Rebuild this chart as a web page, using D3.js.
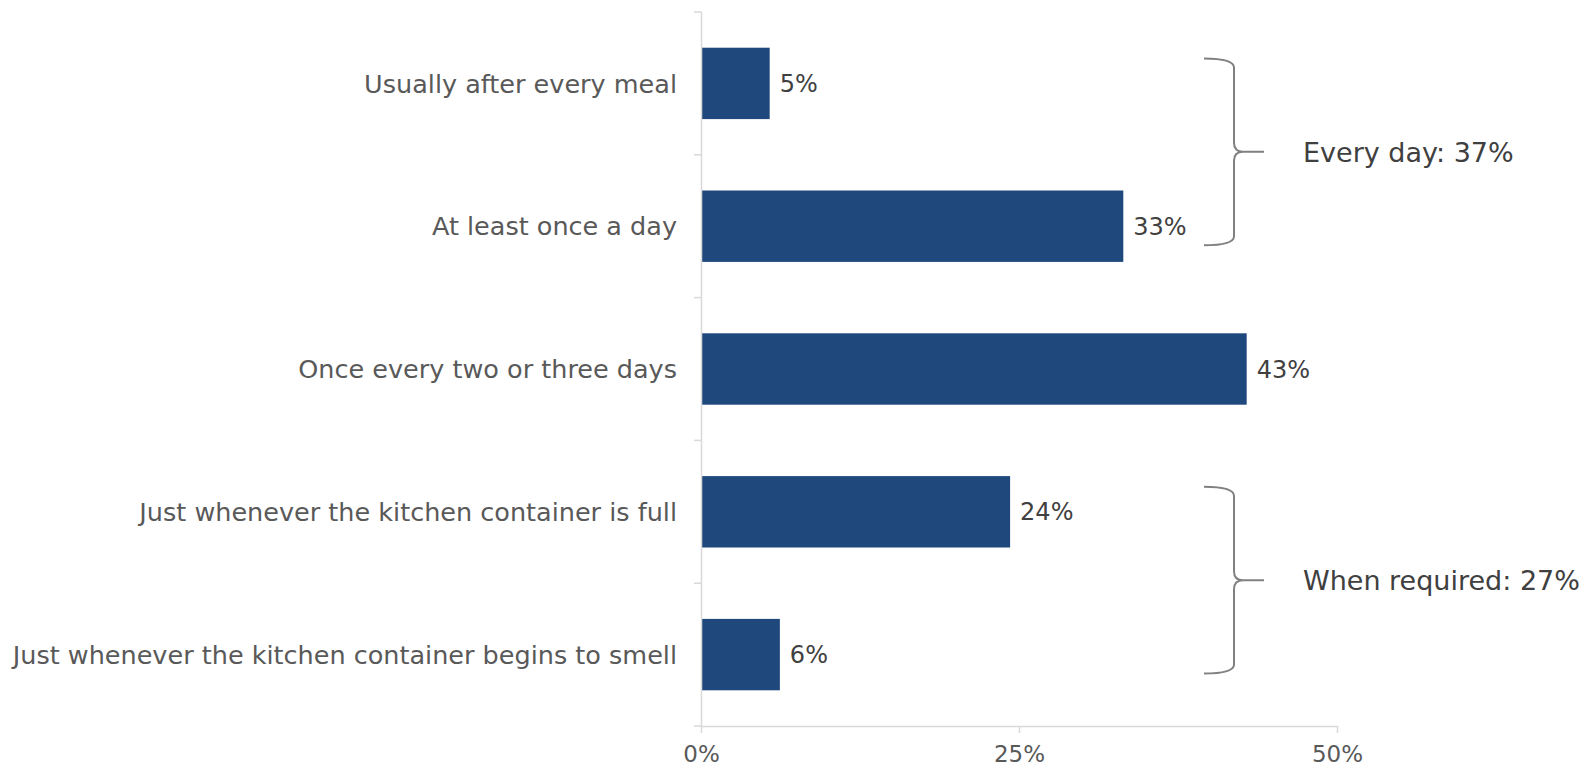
<!DOCTYPE html>
<html>
<head>
<meta charset="utf-8">
<script src="https://cdn.jsdelivr.net/npm/d3@7"></script>
<style>
  html, body { margin: 0; padding: 0; background: #ffffff; }
  svg { display: block; }
  text { font-family: "DejaVu Sans", sans-serif; }
</style>
</head>
<body>
<svg id="chart" width="1589" height="768"></svg>
<script>
// How often food waste is taken out of the kitchen (share of respondents)
const categories = [
  "Usually after every meal",
  "At least once a day",
  "Once every two or three days",
  "Just whenever the kitchen container is full",
  "Just whenever the kitchen container begins to smell"
];
const shares = [5.4, 33.2, 42.9, 24.3, 6.2];
const xTicks = [0, 25, 50];

// Grouped totals shown beside the braces
const groups = [
  { label: "Every day: 37%", from: 0, to: 1 },
  { label: "When required: 27%", from: 3, to: 4 }
];

const W = 1589, H = 768;
const plot = { left: 701, right: 1337, top: 12, bottom: 726 };

const svg = d3.select("#chart");

const x = d3.scaleLinear().domain([0, 50]).range([plot.left, plot.right]);
const y = d3.scaleBand()
  .domain(categories)
  .range([plot.top, plot.bottom])
  .paddingInner(0.5)
  .paddingOuter(0.25);

const axisColor = "#d9d9d9";
const labelColor = "#595959";

// Bars
svg.append("g").selectAll("rect")
  .data(categories)
  .join("rect")
  .attr("x", x(0) + 1)
  .attr("y", d => y(d))
  .attr("width", (d, i) => x(shares[i]) - x(0) - 1)
  .attr("height", y.bandwidth())
  .attr("fill", "#1f497d");

// Value labels
svg.append("g").selectAll("text")
  .data(categories)
  .join("text")
  .attr("x", (d, i) => x(shares[i]) + 10)
  .attr("y", d => y(d) + y.bandwidth() / 2)
  .attr("dy", "0.36em")
  .attr("font-size", 24)
  .attr("fill", "#404040")
  .text((d, i) => d3.format(".0f")(shares[i]) + "%");

// Category axis (left)
const yAxis = svg.append("g");
yAxis.append("line")
  .attr("x1", plot.left + 0.5).attr("x2", plot.left + 0.5)
  .attr("y1", plot.top).attr("y2", plot.bottom)
  .attr("stroke", axisColor).attr("stroke-width", 1.5);
const step = y.step();
const bounds = categories.map(c => y(c) - (step - y.bandwidth()) / 2).concat([plot.bottom]);
yAxis.selectAll("line.tick")
  .data(bounds)
  .join("line")
  .attr("class", "tick")
  .attr("x1", plot.left - 7).attr("x2", plot.left + 0.5)
  .attr("y1", d => d).attr("y2", d => d)
  .attr("stroke", axisColor).attr("stroke-width", 1.5);
yAxis.selectAll("text")
  .data(categories)
  .join("text")
  .attr("x", plot.left - 24)
  .attr("y", d => y(d) + y.bandwidth() / 2)
  .attr("dy", "0.36em")
  .attr("text-anchor", "end")
  .attr("font-size", 25.5)
  .attr("fill", labelColor)
  .text(d => d);

// Value axis (bottom)
const xAxis = svg.append("g")
  .attr("transform", `translate(0,${plot.bottom})`)
  .call(d3.axisBottom(x).tickValues(xTicks).tickSize(7).tickSizeOuter(0)
    .tickFormat(d => d + "%"));
xAxis.select(".domain").attr("stroke", axisColor).attr("stroke-width", 1.5);
xAxis.selectAll(".tick line").attr("stroke", axisColor).attr("stroke-width", 1.5);
xAxis.selectAll(".tick text")
  .attr("font-family", "DejaVu Sans, sans-serif")
  .attr("font-size", 23)
  .attr("fill", labelColor)
  .attr("dy", 0)
  .attr("y", 36);

// Braces with group totals
const braceX0 = 1204, braceX1 = 1234, braceTip = 1264, r = 9;
groups.forEach(g => {
  const yT = y(categories[g.from]) + y.bandwidth() / 2 - 25;
  const yB = y(categories[g.to]) + y.bandwidth() / 2 + 19;
  const yM = (yT + yB) / 2;
  const p = d3.path();
  p.moveTo(braceX0, yT);
  p.quadraticCurveTo(braceX1, yT, braceX1, yT + r);
  p.lineTo(braceX1, yM - r);
  p.quadraticCurveTo(braceX1, yM, braceX1 + r, yM);
  p.lineTo(braceTip, yM);
  p.moveTo(braceX1 + r, yM);
  p.quadraticCurveTo(braceX1, yM, braceX1, yM + r);
  p.lineTo(braceX1, yB - r);
  p.quadraticCurveTo(braceX1, yB, braceX0, yB);
  svg.append("path")
    .attr("d", p.toString())
    .attr("fill", "none")
    .attr("stroke", "#808080")
    .attr("stroke-width", 2);
  svg.append("text")
    .attr("x", 1303)
    .attr("y", yM)
    .attr("dy", "0.36em")
    .attr("font-size", 27)
    .attr("fill", "#404040")
    .text(g.label);
});
</script>
</body>
</html>
